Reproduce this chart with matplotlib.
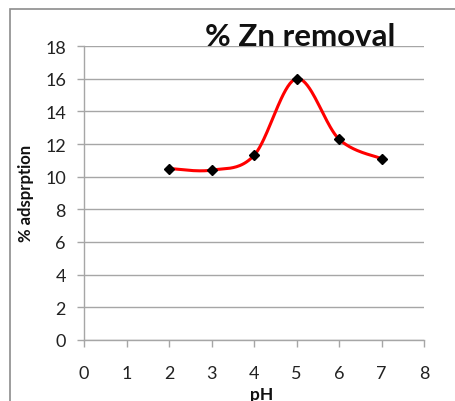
import matplotlib
matplotlib.use("Agg")
import matplotlib.pyplot as plt
from matplotlib.patches import Rectangle
import numpy as np

ph = [2, 3, 4, 5, 6, 7]
adsorption = [10.5, 10.4, 11.3, 16.0, 12.3, 11.1]
x_ticks = [0, 1, 2, 3, 4, 5, 6, 7, 8]
y_ticks = [0, 2, 4, 6, 8, 10, 12, 14, 16, 18]
title = "% Zn removal"
xlabel = "pH"
ylabel = "% adsprption"

plt.rcParams['font.family'] = ['Lato', 'DejaVu Sans']

def smooth(xs, ys, n=40):
    # Excel-like Catmull-Rom bezier smoothing between data points
    xs = np.asarray(xs, float); ys = np.asarray(ys, float)
    P = np.column_stack([xs, ys])
    out = []
    for i in range(len(P) - 1):
        p0 = P[i - 1] if i > 0 else P[i]
        p1 = P[i]; p2 = P[i + 1]
        p3 = P[i + 2] if i + 2 < len(P) else P[i + 1]
        c1 = p1 + (p2 - p0) / 6.0
        c2 = p2 - (p3 - p1) / 6.0
        t = np.linspace(0, 1, n)[:, None]
        seg = (1 - t) ** 3 * p1 + 3 * (1 - t) ** 2 * t * c1 + 3 * (1 - t) * t ** 2 * c2 + t ** 3 * p2
        out.append(seg if i == 0 else seg[1:])
    S = np.vstack(out)
    return S[:, 0], S[:, 1]

fig = plt.figure(figsize=(4.55, 4.02), dpi=100)
ax = fig.add_axes([84/455, 1 - 341/402, 340/455, 294/402])

sx, sy = smooth(ph, adsorption)
ax.plot(sx, sy, color='#ff0000', lw=2.2, zorder=3)
ax.plot(ph, adsorption, linestyle='none', marker='D', color='black', ms=5.5, zorder=4)

ax.set_xlim(0, 8)
ax.set_ylim(0, 18)
ax.set_xticks(x_ticks)
ax.set_yticks(y_ticks)
ax.set_xticklabels([str(v) for v in x_ticks], fontsize=13)
ax.set_yticklabels([str(v) for v in y_ticks], fontsize=13)
ax.yaxis.grid(True, color='#a6a6a6', lw=1.0)
ax.set_axisbelow(True)
for s in ['top', 'right']:
    ax.spines[s].set_visible(False)
for s in ['left', 'bottom']:
    ax.spines[s].set_color('#a6a6a6')
    ax.spines[s].set_linewidth(1.0)
ax.tick_params(axis='both', direction='out', length=5, color='#a6a6a6', width=1.0, labelcolor='#222222')
ax.tick_params(axis='x', pad=13)
ax.tick_params(axis='y', pad=8)

fig.text(262/455, 1 - 395/402, xlabel, fontsize=12.5, fontweight='bold', ha='center', va='center', color='#111111')
fig.text(26/455, 1 - 193/402, ylabel, fontsize=12, fontweight='bold', ha='center', va='center',
         rotation=90, color='#111111')
fig.text(300/455, 1 - 37/402, title, fontsize=22.5, fontweight='bold', ha='center', va='center', color='#111111')

fig.patches.append(Rectangle((10/455, -0.05), 1.0, 1 - 10/402 + 0.05, transform=fig.transFigure,
                             fill=False, edgecolor='#8c8c8c', lw=1.2))

fig.savefig('out.png', dpi=100)
